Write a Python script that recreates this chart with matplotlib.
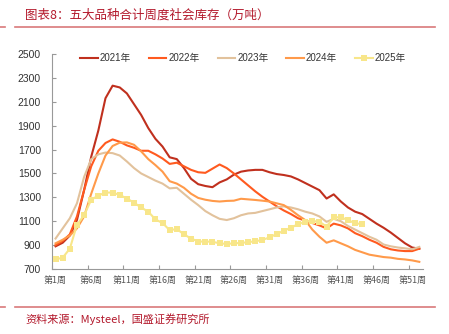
import matplotlib
matplotlib.use("Agg")
import matplotlib.pyplot as plt
from matplotlib.lines import Line2D

plt.rcParams['font.family'] = ['Liberation Sans', 'Noto Sans CJK SC', 'DejaVu Sans']

# weekly inventory, 10k tonnes
weeks = list(range(1, 53))
inv_2021 = [890, 920, 980, 1110, 1360, 1640, 1860, 2130, 2235, 2220, 2170, 2080,
            1990, 1880, 1790, 1725, 1635, 1620, 1545, 1455, 1410, 1395, 1385, 1425,
            1450, 1490, 1515, 1525, 1530, 1530, 1510, 1495, 1487, 1475, 1450, 1420,
            1390, 1360, 1290, 1325, 1265, 1215, 1180, 1160, 1120, 1080, 1045, 1005,
            960, 915, 880, 870]
inv_2022 = [900, 935, 990, 1140, 1360, 1560, 1690, 1755, 1785, 1765, 1735, 1715,
            1690, 1690, 1660, 1625, 1580, 1590, 1560, 1530, 1510, 1505, 1540, 1575,
            1545, 1500, 1450, 1400, 1350, 1305, 1265, 1225, 1190, 1160, 1125, 1105,
            1085, 1065, 1040, 1080, 1065, 1040, 1000, 975, 945, 920, 885, 865,
            855, 850, 850, 870]
inv_2023 = [955, 1040, 1125, 1250, 1470, 1620, 1660, 1675, 1670, 1650, 1600, 1545,
            1500, 1470, 1440, 1415, 1375, 1380, 1330, 1280, 1235, 1185, 1150, 1120,
            1110, 1125, 1150, 1165, 1170, 1185, 1200, 1215, 1225, 1215, 1200, 1180,
            1165, 1140, 1095, 1120, 1100, 1060, 1030, 1000, 970, 945, 905, 890,
            880, 873, 865, 885]
inv_2024 = [915, 945, 980, 1040, 1140, 1330, 1500, 1650, 1730, 1758, 1760, 1740,
            1685, 1620, 1570, 1515, 1435, 1415, 1380, 1330, 1295, 1280, 1270, 1265,
            1270, 1272, 1288, 1283, 1278, 1272, 1265, 1250, 1235, 1195, 1150, 1110,
            1030, 970, 920, 940, 915, 890, 860, 840, 820, 810, 800, 795,
            785, 780, 772, 760]
inv_2025 = [780, 795, 870, 1070, 1150, 1280, 1315, 1340, 1340, 1320, 1290, 1255,
            1215, 1180, 1115, 1085, 1025, 1035, 990, 955, 930, 930, 928, 915,
            910, 915, 918, 925, 932, 943, 965, 993, 1020, 1046, 1075, 1095,
            1102, 1096, 1055, 1133, 1133, 1110, 1082, 1077]

series_names = ['2021年', '2022年', '2023年', '2024年', '2025年']
colors = ['#C0301E', '#FF5A1F', '#E2C29C', '#FF9A4A', '#F8E68A']

yticks = list(range(700, 2501, 200))
label_weeks = list(range(1, 53, 5))
week_labels = ['第%d周' % w for w in label_weeks]

fig = plt.figure(figsize=(4.49, 3.34), dpi=100)
ax = fig.add_axes([0.1158, 0.1946, 0.826, 0.6437])

all_series = [inv_2021, inv_2022, inv_2023, inv_2024]
for vals, c in zip(all_series, colors[:4]):
    ax.plot(weeks[:len(vals)], vals, color=c, lw=1.5, zorder=2)
ax.plot(weeks[:len(inv_2025)], inv_2025, color=colors[4], lw=1.5,
        marker='s', markersize=4, markeredgewidth=0, zorder=3)

ax.set_xlim(0.5, 52.5)
ax.set_ylim(700, 2500)
ax.set_yticks(yticks)
ax.set_xticks([w - 0.5 for w in label_weeks])
ax.set_xticklabels([])
ax.set_xticks(label_weeks, minor=True)
ax.set_xticklabels(week_labels, minor=True, fontsize=6.5, color='#555555',
                   family=['Noto Sans CJK SC', 'DejaVu Sans'])
ax.tick_params(axis='x', which='major', direction='in', length=3, color='#999999')
ax.tick_params(axis='x', which='minor', length=0, pad=5)
ax.tick_params(axis='y', direction='in', length=3, color='#999999',
               labelsize=7.5, labelcolor='#333333', pad=8)

for s in ['top', 'right']:
    ax.spines[s].set_visible(False)
for s in ['left', 'bottom']:
    ax.spines[s].set_color('#999999')
    ax.spines[s].set_linewidth(0.8)

handles = []
for i, name in enumerate(series_names):
    if i == 4:
        h = Line2D([], [], color=colors[i], lw=1.5, marker='s', markersize=4,
                   markeredgewidth=0)
    else:
        h = Line2D([], [], color=colors[i], lw=1.5)
    handles.append(h)
leg = ax.legend(handles, series_names, loc='center', bbox_to_anchor=(0.515, 0.981),
                ncol=5, frameon=False, fontsize=7, handlelength=1.8,
                handletextpad=0.2, columnspacing=1.85)
for t in leg.get_texts():
    t.set_color('#333333')

# header and footer
red = '#B3192C'
line_c = '#D9797A'
fig.text(25 / 449, 1 - 15 / 334, '图表8：五大品种合计周度社会库存（万吨）',
         fontsize=9, color=red, va='center', ha='left',
         family=['Noto Sans CJK SC', 'DejaVu Sans'])
fig.add_artist(Line2D([15 / 449, 435 / 449], [1 - 27 / 334, 1 - 27 / 334],
                      color=line_c, lw=1.2))
fig.add_artist(Line2D([0, 5 / 449], [1 - 27 / 334, 1 - 27 / 334],
                      color=line_c, lw=1.2))
fig.add_artist(Line2D([15 / 449, 435 / 449], [1 - 307 / 334, 1 - 307 / 334],
                      color=line_c, lw=1.2))
fig.add_artist(Line2D([0, 5 / 449], [1 - 307 / 334, 1 - 307 / 334],
                      color=line_c, lw=1.2))
fig.text(25 / 449, 1 - 319 / 334, '资料来源：Mysteel，国盛证券研究所',
         fontsize=8, color=red, va='center', ha='left',
         family=['Noto Sans CJK SC', 'DejaVu Sans'])

fig.savefig('out.png', dpi=100)
